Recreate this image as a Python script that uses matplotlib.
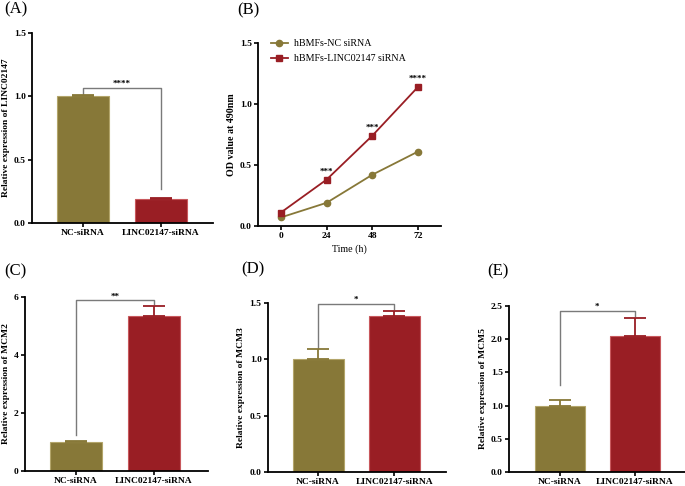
import numpy as np
import matplotlib
matplotlib.use("Agg")
import matplotlib.pyplot as plt

plt.rcParams['font.family'] = ['Liberation Serif', 'DejaVu Serif']

# ---- data ----
groups = ["NC-siRNA", "LINC02147-siRNA"]

linc_mean = [1.00, 0.19]
linc_err = [0.01, 0.01]

hours = [0, 24, 48, 72]
od_nc = [0.07, 0.19, 0.42, 0.61]
od_linc = [0.11, 0.38, 0.74, 1.14]
od_stars = ["", "***", "***", "****"]

mcm2_mean = [1.00, 5.35]
mcm2_err = [0.05, 0.35]
mcm3_mean = [1.00, 1.38]
mcm3_err = [0.09, 0.05]
mcm5_mean = [1.00, 2.05]
mcm5_err = [0.08, 0.27]

OLIVE = "#877838"
RED = "#991e24"
EDGE_OLIVE = "#b3a56a"
EDGE_RED = "#c8585c"
GRAY = "#7a7a7a"


def style_axes(ax):
    for s in ["top", "right"]:
        ax.spines[s].set_visible(False)
    for s in ["left", "bottom"]:
        ax.spines[s].set_linewidth(1.3)
    ax.tick_params(direction="out", length=3, width=1.2, labelsize=6.8, pad=1.5)
    for lab in ax.get_xticklabels() + ax.get_yticklabels():
        lab.set_fontweight("bold")


def bar_panel(ax, means, errs, ylim, yticks, yfmt, ylabel, stars, brk, xlim):
    x = np.arange(len(groups))
    ax.bar(x, means, width=0.67, color=[OLIVE, RED],
           edgecolor=[EDGE_OLIVE, EDGE_RED], linewidth=0.8, zorder=2)
    for xi, m, e, c in zip(x, means, errs, [OLIVE, RED]):
        ax.errorbar(xi, m, yerr=[[0], [e]], color=c, capsize=8,
                    elinewidth=1.3, capthick=1.3, zorder=3)
    # significance bracket
    y_left, y_top, y_right = brk
    ax.plot([0, 0, 1, 1], [y_left, y_top, y_top, y_right],
            color=GRAY, lw=1.0, zorder=1)
    ax.text(0.5, y_top, stars, ha="center", va="bottom", fontsize=6.5,
            fontweight="bold")
    ax.set_xlim(*xlim)
    ax.set_ylim(*ylim)
    ax.set_yticks(yticks)
    ax.set_yticklabels([yfmt.format(v) for v in yticks])
    ax.set_xticks(x)
    ax.set_xticklabels(groups)
    ax.set_ylabel(ylabel, fontsize=6.8, fontweight="bold", labelpad=3)
    style_axes(ax)


fig = plt.figure(figsize=(6.85, 4.86), dpi=100)

axA = fig.add_axes([0.0467, 0.541, 0.264, 0.391])
bar_panel(axA, linc_mean, linc_err, (0, 1.5), [0.0, 0.5, 1.0, 1.5], "{:.1f}",
          "Relative expression of LINC02147", "****", (1.02, 1.07, 0.27),
          (-0.654, 1.667))

axB = fig.add_axes([0.3766, 0.535, 0.267, 0.3765])
axB.plot(hours, od_nc, color=OLIVE, marker="o", ms=4.5, lw=1.3,
         label="hBMFs-NC siRNA")
axB.plot(hours, od_linc, color=RED, marker="s", ms=4.5, lw=1.3,
         label="hBMFs-LINC02147 siRNA")
for h, v, s in zip(hours, od_linc, od_stars):
    if s:
        axB.text(h, v + 0.03, s, ha="center", va="bottom", fontsize=6.5,
                 fontweight="bold")
axB.set_xlim(-12, 84)
axB.set_ylim(0, 1.5)
axB.set_xticks(hours)
axB.set_yticks([0.0, 0.5, 1.0, 1.5])
axB.set_yticklabels(["0.0", "0.5", "1.0", "1.5"])
axB.set_xlabel("Time (h)", fontsize=7.2, labelpad=3)
axB.set_ylabel("OD value at 490nm", fontsize=7.2, fontweight="bold", labelpad=3)
axB.legend(loc="upper left", frameon=False, fontsize=7.2,
           bbox_to_anchor=(0.02, 1.07), handlelength=1.7, handletextpad=0.6,
           labelspacing=0.6)
style_axes(axB)

axC = fig.add_axes([0.0365, 0.0309, 0.267, 0.358])
bar_panel(axC, mcm2_mean, mcm2_err, (0, 6), [0, 2, 4, 6], "{:d}",
          "Relative expression of MCM2", "**", (1.23, 5.88, 5.75),
          (-0.654, 1.69))

axD = fig.add_axes([0.391, 0.0288, 0.26, 0.348])
bar_panel(axD, mcm3_mean, mcm3_err, (0, 1.5), [0.0, 0.5, 1.0, 1.5], "{:.1f}",
          "Relative expression of MCM3", "*", (1.10, 1.49, 1.45),
          (-0.66, 1.68))

axE = fig.add_axes([0.743, 0.0288, 0.257, 0.342])
bar_panel(axE, mcm5_mean, mcm5_err, (0, 2.5), [0.0, 0.5, 1.0, 1.5, 2.0, 2.5],
          "{:.1f}", "Relative expression of MCM5", "*", (1.31, 2.42, 2.34),
          (-0.68, 1.67))

# panel labels
fig.text(0.006, 0.981, "(A)", fontsize=12, va="center")
fig.text(0.346, 0.979, "(B)", fontsize=12, va="center")
fig.text(0.006, 0.442, "(C)", fontsize=12, va="center")
fig.text(0.352, 0.446, "(D)", fontsize=12, va="center")
fig.text(0.712, 0.442, "(E)", fontsize=12, va="center")

fig.savefig("out.png", dpi=100)
